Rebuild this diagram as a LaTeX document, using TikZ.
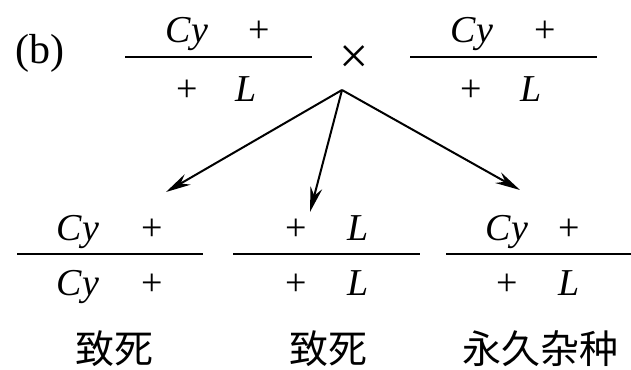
\documentclass[tikz,border=0pt]{standalone}
\usepackage{fontspec}
\setmainfont{Liberation Serif}
\newfontfamily\cjk{Noto Sans CJK SC}
\usetikzlibrary{arrows.meta}
\tikzset{
  allele/.style={font=\fontsize{38}{40}\selectfont, inner sep=0pt, anchor=base},
  label/.style={font=\cjk\fontsize{39}{41}\selectfont, inner sep=0pt},
  bar/.style={line width=2.6pt},
  offspring/.style={-{Stealth[length=25pt, width=12pt]}, line width=2pt}
}

\begin{document}
\begin{tikzpicture}[x=1pt, y=-1pt]
    \useasboundingbox (0,0) rectangle (631,369);

    % Panel mark and cross sign
    \node[font=\fontsize{42}{44}\selectfont, inner sep=0pt] (panel) at (40,53) {(b)};
    \node[font=\fontsize{52}{54}\selectfont, inner sep=0pt] (cross) at (354,60) {×};

    % Parents
    \coordinate (PAl) at (125,57);  \coordinate (PAr) at (312,57);
    \coordinate (PBl) at (410,57);  \coordinate (PBr) at (597,57);
    \draw[bar] (PAl) -- (PAr);
    \draw[bar] (PBl) -- (PBr);
    \node[allele] (PA1) at (187,43) {\textit{Cy}};
    \node[allele] (PA2) at (259,43) {+};
    \node[allele] (PA3) at (187,101) {+};
    \node[allele] (PA4) at (246,101) {\textit{L}};
    \node[allele] (PB1) at (472,43) {\textit{Cy}};
    \node[allele] (PB2) at (545,43) {+};
    \node[allele] (PB3) at (471,101) {+};
    \node[allele] (PB4) at (531,101) {\textit{L}};

    % Offspring
    \coordinate (OAl) at (17,254);   \coordinate (OAr) at (203,254);
    \coordinate (OBl) at (233,254);  \coordinate (OBr) at (420,254);
    \coordinate (OCl) at (446,254);  \coordinate (OCr) at (631,254);
    \draw[bar] (OAl) -- (OAr);
    \draw[bar] (OBl) -- (OBr);
    \draw[bar] (OCl) -- (OCr);
    \node[allele] (OA1) at (78,240) {\textit{Cy}};
    \node[allele] (OA2) at (152,240) {+};
    \node[allele] (OA3) at (78,295) {\textit{Cy}};
    \node[allele] (OA4) at (152,295) {+};
    \node[allele] (OB1) at (296,240) {+};
    \node[allele] (OB2) at (358,240) {\textit{L}};
    \node[allele] (OB3) at (296,295) {+};
    \node[allele] (OB4) at (358,295) {\textit{L}};
    \node[allele] (OC1) at (507,240) {\textit{Cy}};
    \node[allele] (OC2) at (569,240) {+};
    \node[allele] (OC3) at (507,295) {+};
    \node[allele] (OC4) at (569,295) {\textit{L}};
    \node[label] (fateA) at (114,349) {致死};
    \node[label] (fateB) at (328,349) {致死};
    \node[label] (fateC) at (540,349) {永久杂种};

    % Arrows from the cross
    \coordinate (apex) at (342,90);
    \coordinate (tipA) at (166,192);
    \coordinate (tipB) at (310,212);
    \coordinate (tipC) at (520,190);
    \draw[offspring] (apex) -- (tipA);
    \draw[offspring] (apex) -- (tipB);
    \draw[offspring] (apex) -- (tipC);

\end{tikzpicture}
\end{document}
